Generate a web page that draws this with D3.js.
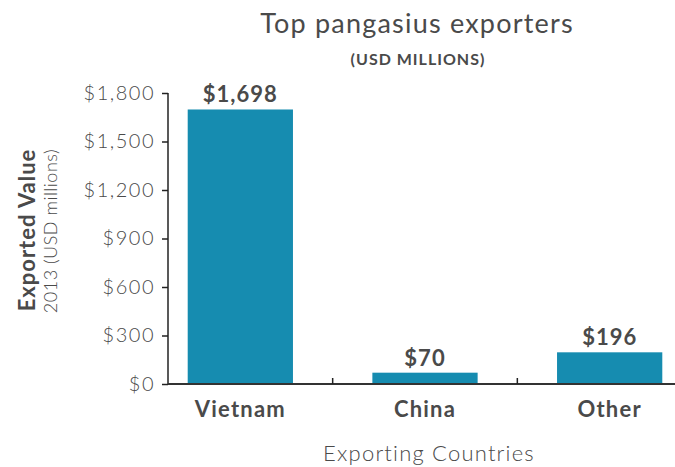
<!DOCTYPE html>
<html lang="en">
<head>
    <meta charset="UTF-8">
    <title>Top pangasius exporters</title>
    <script src="https://cdn.jsdelivr.net/npm/d3@7/dist/d3.min.js"></script>
    <style>
        body { margin: 0; background: #fff; }
        text { font-family: Lato, "Open Sans", sans-serif; fill: #4a4a4a; }
    </style>
</head>
<body>
    <script>
        // width and height
        var w = 675;
        var h = 467;

        // data
        var countries = ["Vietnam", "China", "Other"];
        var values = [1698, 70, 196];
        var yTicks = [0, 300, 600, 900, 1200, 1500, 1800];

        var svg = d3.select("body")
                    .append("svg")
                    .attr("width", w)
                    .attr("height", h);

        // scales
        var x = d3.scaleBand()
                  .domain(countries)
                  .range([148, 702])
                  .paddingInner(0.43)
                  .paddingOuter(0.215);

        var y = d3.scaleLinear()
                  .domain([0, 1800])
                  .range([384, 93]);

        var fmt = function(d) { return "$" + d3.format(",")(d); };

        // titles
        svg.append("text")
           .attr("x", 417).attr("y", 33)
           .attr("text-anchor", "middle")
           .attr("font-size", "27px")
           .attr("letter-spacing", "1.2px")
           .text("Top pangasius exporters");

        svg.append("text")
           .attr("x", 418).attr("y", 65)
           .attr("text-anchor", "middle")
           .attr("font-size", "16px")
           .attr("font-weight", "bold")
           .attr("letter-spacing", "1px")
           .text("(USD MILLIONS)");

        // bars
        svg.selectAll("rect.bar")
           .data(values)
           .enter()
           .append("rect")
           .attr("class", "bar")
           .attr("x", function(d, i) { return x(countries[i]); })
           .attr("width", x.bandwidth())
           .attr("y", function(d) { return y(d); })
           .attr("height", function(d) { return y(0) - y(d); })
           .attr("fill", "#168cb0");

        // value labels
        svg.selectAll("text.val")
           .data(values)
           .enter()
           .append("text")
           .attr("class", "val")
           .attr("x", function(d, i) { return x(countries[i]) + x.bandwidth() / 2; })
           .attr("y", function(d) { return y(d) - 7; })
           .attr("text-anchor", "middle")
           .attr("font-size", "22px")
           .attr("font-weight", "bold")
           .attr("letter-spacing", "1px")
           .text(fmt);

        // y axis
        var yAxis = d3.axisLeft(y)
                      .tickValues(yTicks)
                      .tickFormat(fmt)
                      .tickSize(6)
                      .tickPadding(7);

        var gy = svg.append("g")
                    .attr("transform", "translate(168,0)")
                    .call(yAxis);
        gy.select(".domain").remove();
        gy.append("line")
          .attr("x1", 0).attr("x2", 0)
          .attr("y1", y(1800)).attr("y2", y(0))
          .attr("stroke", "#222").attr("stroke-width", 1.5);
        gy.selectAll(".tick line").attr("stroke", "#222").attr("stroke-width", 1.5);
        gy.selectAll(".tick text")
          .attr("font-size", "20px")
          .attr("font-weight", 300)
          .attr("letter-spacing", "1.5px")
          .attr("fill", "#444")
          .style("font-family", "Lato, sans-serif");

        // x axis line and separators
        svg.append("line")
           .attr("x1", 168).attr("x2", w)
           .attr("y1", y(0)).attr("y2", y(0))
           .attr("stroke", "#333").attr("stroke-width", 2);

        svg.selectAll("line.sep")
           .data(countries.slice(1))
           .enter()
           .append("line")
           .attr("class", "sep")
           .attr("x1", function(d) { return x(d) - x.step() * x.paddingInner() / 2; })
           .attr("x2", function(d) { return x(d) - x.step() * x.paddingInner() / 2; })
           .attr("y1", y(0)).attr("y2", y(0) - 6)
           .attr("stroke", "#222").attr("stroke-width", 1.5);

        // category labels
        svg.selectAll("text.cat")
           .data(countries)
           .enter()
           .append("text")
           .attr("class", "cat")
           .attr("x", function(d) { return x(d) + x.bandwidth() / 2; })
           .attr("y", 417)
           .attr("text-anchor", "middle")
           .attr("font-size", "22px")
           .attr("font-weight", "bold")
           .attr("letter-spacing", "1.2px")
           .text(function(d) { return d; });

        // axis titles
        svg.append("text")
           .attr("x", 429).attr("y", 461)
           .attr("text-anchor", "middle")
           .attr("font-size", "22px")
           .attr("font-weight", 300)
           .attr("letter-spacing", "1.2px")
           .attr("fill", "#444")
           .text("Exporting Countries");

        svg.append("text")
           .attr("transform", "translate(35,230) rotate(-90)")
           .attr("text-anchor", "middle")
           .attr("font-size", "22px")
           .attr("font-weight", "bold")
           .attr("letter-spacing", "1px")
           .text("Exported Value");

        svg.append("text")
           .attr("transform", "translate(57,231) rotate(-90)")
           .attr("text-anchor", "middle")
           .attr("font-size", "18px")
           .attr("font-weight", 300)
           .attr("letter-spacing", "0.5px")
           .attr("fill", "#444")
           .text("2013 (USD millions)");
    </script>
</body>
</html>
